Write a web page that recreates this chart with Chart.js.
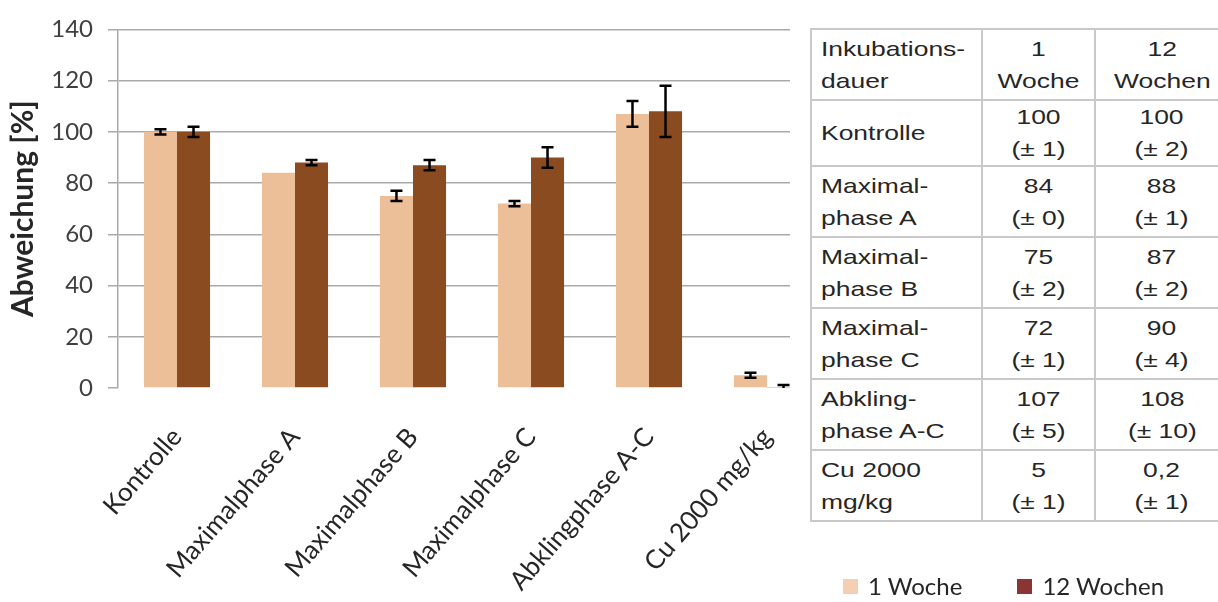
<!DOCTYPE html>
<html lang="de">
<head>
<meta charset="utf-8">
<title>Abweichung</title>
<script src="https://cdn.jsdelivr.net/npm/chart.js@4.4.1/dist/chart.umd.min.js"></script>
<style>
  html, body { margin: 0; padding: 0; background: #fff; overflow: hidden; }
  #wrap { position: relative; width: 1218px; height: 602px; overflow: hidden; }
  #chart { position: absolute; left: 0; top: 0; }
  #tableBox { position: absolute; left: 790px; top: 0; width: 440px; height: 530px; background: #fff; }
  table { position: absolute; left: 20px; top: 28px; border-collapse: collapse;
          font-family: "Liberation Sans", Arial, sans-serif; font-size: 21px; line-height: 32px; color: #262626; }
  td { border: 2px solid #c9c9c9; padding: 0; vertical-align: middle; text-align: center; }
  td.first { text-align: left; padding-left: 9px; }
  td span { display: inline-block; transform: scaleX(1.26); transform-origin: center; }
  td.first span { transform-origin: left; }
  tr { height: 71px; }
  tr.kurz { height: 62px; }
  #legende { position: absolute; left: 843px; top: 570px; width: 370px; white-space: nowrap;
             font-family: Lato, sans-serif; font-size: 24px; color: #262626;
             display: flex; align-items: center; line-height: 32px; }
  #legende .item { display: flex; align-items: center; margin-right: 55px; }
  #legende .box { width: 15px; height: 15px; margin-right: 10px; flex: none; }
</style>
</head>
<body>
<div id="wrap">
  <canvas id="chart" width="1218" height="602"></canvas>
  <div id="tableBox">
    <table id="werte">
      <colgroup><col style="width:171px"><col style="width:113px"><col style="width:134px"></colgroup>
      <tbody></tbody>
    </table>
  </div>
  <div id="legende"></div>
</div>
<script>
// Daten
const categories = ['Kontrolle', 'Maximalphase A', 'Maximalphase B', 'Maximalphase C', 'Abklingphase A-C', 'Cu 2000 mg/kg'];
const woche1 = [100, 84, 75, 72, 107, 5];
const woche12 = [100, 88, 87, 90, 108, 0.2];
const fehler1 = [1, 0, 2, 1, 5, 1];
const fehler12 = [2, 1, 2, 4, 10, 1];
const seriesLabels = ['1 Woche', '12 Wochen'];
const tableRowLabels = ['Kontrolle', 'Maximal-<br>phase A', 'Maximal-<br>phase B', 'Maximal-<br>phase C', 'Abkling-<br>phase A-C', 'Cu 2000<br>mg/kg'];
const tableHeader = ['Inkubations-<br>dauer', '1<br>Woche', '12<br>Wochen'];

const barColors = ['#EDBF98', '#8B4B21'];
const legendColors = ['#F5CFB3', '#8B3434'];
const gridColor = '#A9A9AE';

// Tabelle rechts
const fmt = v => String(v).replace('.', ',');
const tbody = document.querySelector('#werte tbody');
let rows = '<tr>' + tableHeader.map((h, i) => `<td class="${i === 0 ? 'first' : ''}"><span>${h}</span></td>`).join('') + '</tr>';
tableRowLabels.forEach((name, i) => {
  rows += `<tr class="${i === 0 ? 'kurz' : ''}">
    <td class="first"><span>${name}</span></td>
    <td><span>${fmt(woche1[i])}<br>(± ${fmt(fehler1[i])})</span></td>
    <td><span>${fmt(woche12[i])}<br>(± ${fmt(fehler12[i])})</span></td>
  </tr>`;
});
tbody.innerHTML = rows;

// Legende unten rechts
document.getElementById('legende').innerHTML = seriesLabels.map((s, i) =>
  `<div class="item"><div class="box" style="background:${legendColors[i]}"></div>${s}</div>`).join('');

// Fehlerbalken
const errorBars = {
  id: 'errorBars',
  afterDatasetsDraw(chart) {
    const ctx = chart.ctx;
    const y = chart.scales.y;
    const area = chart.chartArea;
    ctx.save();
    ctx.beginPath();
    ctx.rect(area.left, area.top, area.right - area.left, area.bottom - area.top);
    ctx.clip();
    ctx.strokeStyle = '#000';
    ctx.lineWidth = 2.5;
    chart.data.datasets.forEach((ds, i) => {
      chart.getDatasetMeta(i).data.forEach((bar, j) => {
        const err = ds.errors[j];
        if (!err) return;
        const top = y.getPixelForValue(ds.data[j] + err);
        const bottom = y.getPixelForValue(ds.data[j] - err);
        ctx.beginPath();
        ctx.moveTo(bar.x, top); ctx.lineTo(bar.x, bottom);
        ctx.moveTo(bar.x - 6, top); ctx.lineTo(bar.x + 6, top);
        ctx.moveTo(bar.x - 6, bottom); ctx.lineTo(bar.x + 6, bottom);
        ctx.stroke();
      });
    });
    ctx.restore();
  }
};

Chart.defaults.font.family = 'Lato';
Chart.defaults.color = '#262626';

new Chart(document.getElementById('chart'), {
  type: 'bar',
  data: {
    labels: categories,
    datasets: [
      { label: seriesLabels[0], data: woche1, errors: fehler1, backgroundColor: barColors[0] },
      { label: seriesLabels[1], data: woche12, errors: fehler12, backgroundColor: barColors[1] }
    ]
  },
  options: {
    responsive: false,
    animation: false,
    categoryPercentage: 0.56,
    barPercentage: 1,
    layout: { padding: { top: 28, left: 0, right: 0, bottom: 0 } },
    plugins: {
      tooltip: { enabled: false },
      legend: { display: false }
    },
    scales: {
      x: {
        grid: { display: false, drawTicks: false },
        border: { display: false },
        ticks: {
          font: { size: 26 },
          color: '#262626',
          minRotation: 49,
          maxRotation: 49,
          autoSkip: false,
          padding: 34
        },
        afterFit: s => { s.height = 214; }
      },
      y: {
        min: 0,
        max: 140,
        ticks: { stepSize: 20, font: { size: 24 }, color: '#404040', padding: 15 },
        grid: {
          color: c => (c.tick && c.tick.value === 0 ? 'rgba(0,0,0,0)' : gridColor),
          tickColor: gridColor,
          tickLength: 10,
          lineWidth: 1.5
        },
        border: { display: true, color: gridColor, width: 1.5 },
        title: {
          display: true,
          text: 'Abweichung [%]',
          font: { size: 30, weight: 'bold' },
          color: '#262626',
          padding: { top: 5, bottom: 0 }
        },
        afterFit: s => { s.width = 118; }
      },
      yRechts: {
        position: 'right',
        display: true,
        grid: { display: false },
        border: { display: false },
        ticks: { display: false },
        afterFit: s => { s.width = 392; }
      }
    }
  },
  plugins: [errorBars]
});
</script>
</body>
</html>
